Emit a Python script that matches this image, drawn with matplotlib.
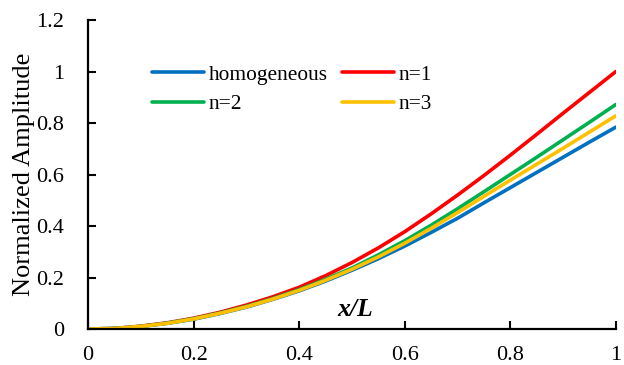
import numpy as np
import matplotlib
matplotlib.use("Agg")
import matplotlib.pyplot as plt

plt.rcParams["font.family"] = ["Liberation Serif", "DejaVu Serif"]

# normalized position along the beam
x_pos = [0.0, 0.05, 0.1, 0.15, 0.2, 0.25, 0.3, 0.35, 0.4, 0.45, 0.5,
         0.55, 0.6, 0.65, 0.7, 0.75, 0.8, 0.85, 0.9, 0.95, 1.0]

# normalized amplitude for each material case
amp_homogeneous = [0.0, 0.002, 0.010, 0.022, 0.038, 0.060, 0.085, 0.115, 0.148, 0.186, 0.228,
                   0.273, 0.322, 0.375, 0.430, 0.490, 0.549, 0.608, 0.667, 0.726, 0.784]
amp_n1 = [0.0, 0.002, 0.011, 0.024, 0.042, 0.065, 0.093, 0.125, 0.162, 0.207, 0.258,
          0.315, 0.378, 0.447, 0.520, 0.596, 0.675, 0.756, 0.838, 0.919, 1.000]
amp_n2 = [0.0, 0.002, 0.010, 0.023, 0.040, 0.062, 0.088, 0.118, 0.153, 0.193, 0.237,
          0.288, 0.343, 0.403, 0.467, 0.533, 0.600, 0.667, 0.735, 0.803, 0.872]
amp_n3 = [0.0, 0.002, 0.010, 0.022, 0.039, 0.061, 0.086, 0.116, 0.150, 0.189, 0.232,
          0.280, 0.333, 0.391, 0.452, 0.515, 0.578, 0.640, 0.702, 0.765, 0.828]

labels = ["homogeneous", "n=1", "n=2", "n=3"]
colors = ["#0070C0", "#FF0000", "#00B050", "#FFC000"]

fig = plt.figure(figsize=(6.24, 3.65), dpi=100)
ax = fig.add_axes([0.141, 0.0986, 0.846, 0.8466])

lines = []
for y, lab, c in zip([amp_homogeneous, amp_n1, amp_n2, amp_n3], labels, colors):
    ln, = ax.plot(x_pos, y, color=c, lw=2.6, label=lab,
                  solid_capstyle="round", solid_joinstyle="round")
    lines.append(ln)

ax.set_xlim(0, 1)
ax.set_ylim(0, 1.2)
ax.set_xticks([0, 0.2, 0.4, 0.6, 0.8, 1.0])
ax.set_xticklabels(["0", "0.2", "0.4", "0.6", "0.8", "1"])
ax.set_yticks([0, 0.2, 0.4, 0.6, 0.8, 1.0, 1.2])
ax.set_yticklabels(["0", "0.2", "0.4", "0.6", "0.8", "1", "1.2"])
ax.tick_params(direction="in", length=5.5, width=1.5, labelsize=16)
ax.tick_params(axis="x", pad=12)
ax.tick_params(axis="y", pad=17)

for side in ["top", "right"]:
    ax.spines[side].set_visible(False)
for side in ["left", "bottom"]:
    ax.spines[side].set_linewidth(1.6)

ax.set_ylabel("Normalized Amplitude", fontsize=19, labelpad=1)
ax.text(0.507, 0.05, "x/L", fontsize=18.5, fontstyle="italic", fontweight="bold",
        ha="center", va="baseline")

# column-wise fill: first column homogeneous/n=2, second n=1/n=3
order = [0, 2, 1, 3]
ax.legend([lines[i] for i in order], [labels[i] for i in order],
          ncol=2, frameon=False, fontsize=15.4, loc="upper left",
          bbox_to_anchor=(0.1216, 0.855), borderpad=0, borderaxespad=0,
          handlelength=2.43, handletextpad=0.2, columnspacing=0.7,
          labelspacing=0.45)

fig.savefig("out.png", dpi=100)
